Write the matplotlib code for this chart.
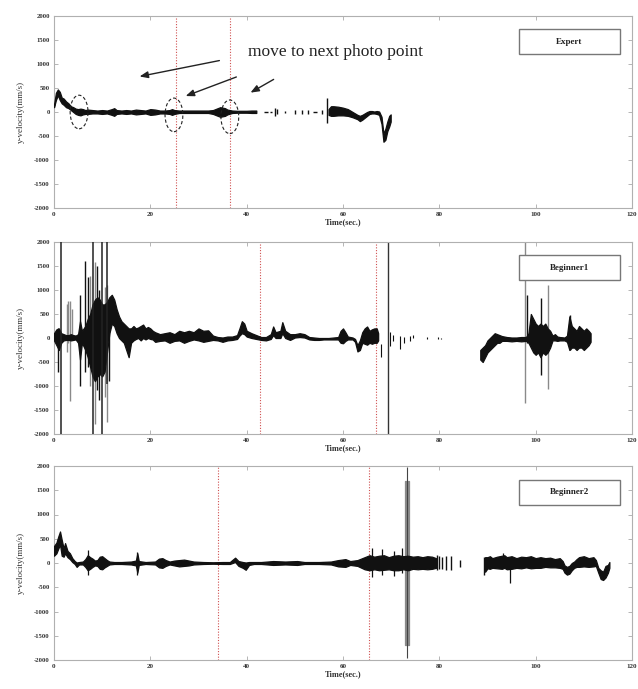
import numpy as np
import matplotlib
matplotlib.use("Agg")
import matplotlib.pyplot as plt
from matplotlib.patches import Ellipse, Rectangle

# ---------------- data ----------------
x_ticks = [0, 20, 40, 60, 80, 100, 120]
y_ticks = [-2000, -1500, -1000, -500, 0, 500, 1000, 1500, 2000]
panel_names = ["Expert", "Beginner1", "Beginner2"]
x_label = "Time(sec.)"
y_label = "y-velocity(mm/s)"
annotation_text = "move to next photo point"

# envelopes: (time, upper, lower)
expert_env1 = [(0.0, 150, 100), (0.4, 400, 250), (0.8, 470, 350), (1.2, 420, 250), (1.6, 300, 180),
               (2.0, 280, 150), (2.5, 220, 100), (3.0, 180, 80), (3.5, 120, 40), (4.0, 100, 0),
               (4.5, 70, -40), (5.0, 60, -60), (5.5, 70, -70), (6.0, 60, -50), (6.5, 40, -40),
               (7.0, 50, -40), (8.0, 40, -30), (9.0, 30, -30), (10.0, 40, -40), (11.0, 30, -30),
               (12.0, 60, -60), (12.5, 80, -80), (13.0, 40, -40), (14.0, 30, -30), (15.0, 40, -40),
               (16.0, 30, -30), (17.0, 50, -50), (18.0, 40, -40), (19.0, 30, -30), (20.0, 60, -60),
               (21.0, 50, -50), (22.0, 30, -30), (23.0, 30, -30), (24.0, 40, -40), (24.5, 60, -60),
               (25.0, 40, -40), (26.0, 30, -20), (28.0, 30, -20), (30.0, 30, -20), (32.0, 30, -20),
               (33.0, 40, -40), (34.0, 80, -80), (34.5, 100, -100), (35.0, 90, -90), (35.5, 80, -80),
               (36.0, 50, -50), (37.0, 30, -20), (38.0, 25, -15), (40.0, 25, -15), (41.0, 30, -20),
               (42.0, 30, -20)]
expert_env2 = [(57.0, 60, -60), (57.5, 120, -80), (58.0, 120, -80), (59.0, 110, -70), (60.0, 90, -70),
               (61.0, 60, -80), (62.0, 0, -110), (63.0, -60, -150), (63.5, -80, -190), (64.0, -60, -160),
               (65.0, 0, -80), (65.5, 20, -40), (66.0, 20, -30), (66.5, 10, -30), (67.0, 20, -40),
               (67.5, 10, -60), (68.0, -100, -250), (68.4, -450, -620), (68.8, -350, -580),
               (69.2, -200, -400), (69.6, -80, -300), (69.9, -50, -200)]
# short dashes (t_start, t_end, value) and marks/spikes (t, low, high)
expert_dashes = [(43.5, 44.5, 0), (44.9, 45.3, 0), (53.8, 54.5, 10)]
expert_marks = [(45.8, -80, 80), (46.3, -40, 60), (48.0, -15, 15), (50.0, -40, 40), (51.4, -40, 40),
                (52.8, -40, 40), (55.6, -50, 50), (56.7, -230, 290)]
expert_photo_lines = [25.3, 36.5]
expert_photo_circles = [(5.2, 0), (24.9, -60), (36.5, -100)]

beginner1_env1 = [(0.0, 100, -50), (0.5, 180, -150), (1.0, 200, -250), (1.5, 100, -100), (2.0, 80, -50),
                  (2.5, 60, -40), (3.0, 60, -40), (3.5, 80, -50), (4.0, 60, -40), (4.5, 50, -30),
                  (5.0, 80, -100), (5.4, 350, -450), (5.8, 150, -100), (6.5, 250, -250), (7.0, 400, -400),
                  (7.5, 500, -600), (8.0, 700, -800), (8.5, 800, -900), (9.0, 850, -800), (9.5, 800, -750),
                  (10.0, 700, -800), (10.5, 700, -700), (11.0, 750, -300), (11.5, 850, 100), (12.0, 900, 300),
                  (12.5, 800, 250), (13.0, 600, 100), (13.5, 450, 0), (14.0, 350, -50), (14.5, 300, -100),
                  (15.0, 250, -250), (15.5, 200, -400), (16.0, 200, -100), (16.5, 250, -50), (17.0, 200, -20),
                  (17.5, 220, 0), (18.0, 250, -50), (18.5, 280, 0), (19.0, 200, -30), (19.5, 230, 0),
                  (20.0, 200, -20), (20.5, 150, -30), (21.0, 120, -80), (22.0, 80, -60), (23.0, 100, -50),
                  (24.0, 120, -100), (25.0, 80, -60), (26.0, 150, -50), (27.0, 120, -100), (28.0, 150, -60),
                  (29.0, 120, -30), (30.0, 200, -50), (31.0, 150, -80), (32.0, 160, -60), (33.0, 50, -40),
                  (34.0, 20, -50), (35.0, 10, -80), (36.0, 30, -50), (37.0, 30, -40), (38.0, 60, -20),
                  (38.5, 200, 50), (39.0, 350, 100), (39.5, 300, 80), (40.0, 150, 30), (41.0, 100, 0),
                  (42.0, 60, -20), (43.0, 20, -40), (44.0, 20, -50), (45.0, 80, -20), (45.5, 240, 60),
                  (46.0, 120, 0), (47.0, 150, 0), (47.4, 330, 100), (48.0, 150, 0), (49.0, 80, -40),
                  (50.0, 80, 10), (51.0, 100, 20), (52.0, 80, 10), (53.0, 20, -30), (54.0, 10, -40),
                  (55.0, 0, -40), (56.0, 0, -30), (57.0, 0, -30), (58.0, 10, -30), (59.0, 20, -30),
                  (59.5, 150, -100), (60.0, 200, -110), (60.5, 120, -60), (61.0, 30, -30), (62.0, 10, -30),
                  (62.5, -20, -80), (63.0, -150, -280), (63.5, -50, -250), (64.0, 120, -100), (64.5, 200, -120),
                  (65.0, 240, -140), (65.5, 150, -100), (66.0, 180, -120), (66.5, 200, -100), (67.0, 200, -100),
                  (67.3, 100, -50)]
beginner1_env2 = [(88.5, -250, -450), (89.0, -200, -500), (89.5, -150, -400), (90.0, -50, -300),
                  (90.5, 0, -250), (91.0, 50, -200), (91.5, 100, -150), (92.0, 80, -100), (92.5, 60, -100),
                  (93.0, 40, -60), (94.0, 20, -60), (95.0, 10, -70), (96.0, 10, -60), (97.0, 20, -70),
                  (98.0, 20, -60), (98.5, 100, -100), (99.0, 500, -200), (99.5, 400, -300), (100.0, 300, -350),
                  (100.5, 250, -300), (101.0, 300, -400), (101.5, 250, -300), (102.0, 300, -350),
                  (102.5, 200, -300), (103.0, 150, -200), (103.5, 50, -50), (104.0, 80, -50), (104.5, 30, -60),
                  (105.0, 20, -50), (106.0, 10, -50), (106.5, 50, -80), (107.0, 450, -250), (107.5, 250, -200),
                  (108.0, 200, -200), (108.5, 150, -250), (109.0, 250, -200), (109.5, 200, -200),
                  (110.0, 150, -250), (110.5, 200, -200), (111.0, 150, -150), (111.4, 100, -80)]
beginner1_solid_spikes = [(1.45, -2000, 2000), (8.0, -2000, 2000), (9.9, -2000, 2000), (10.9, -950, 2000)]
beginner1_dark_spikes = [(0.9, -700, 200), (5.4, -1000, 900), (6.4, -700, 1600), (7.1, -600, 1280),
                         (8.9, -1080, 1490), (9.4, -1300, 1000), (11.4, -900, 600), (98.2, -100, 900),
                         (101.2, -770, 840), (107.2, -250, 480)]
beginner1_gray_spikes = [(2.7, -300, 700), (3.0, -100, 780), (3.3, -1310, 780), (3.7, -50, 600),
                         (7.5, -1000, 1300), (8.6, -1800, 1580), (10.5, -1220, 1070), (11.0, -1750, 1100),
                         (97.8, -1345, 2000), (102.6, -1070, 1100)]
beginner1_marks = [(67.9, -400, -125), (69.8, -160, 120), (70.3, -60, 60), (71.8, -230, 50), (72.6, -100, 30),
                   (74.0, -60, 50), (74.6, 0, 60), (77.4, -20, 30), (79.8, -30, 20), (80.4, -30, 10)]
beginner1_photo_lines = [42.7, 66.9]
beginner1_black_line = [69.3]

beginner2_env1 = [(0.0, 350, 150), (0.5, 420, 200), (0.9, 550, 300), (1.25, 650, 380), (1.6, 480, 150),
                  (2.0, 300, 130), (2.3, 410, 200), (2.8, 250, 120), (3.3, 200, 80), (3.8, 100, 20),
                  (4.3, 40, -20), (4.7, 10, -80), (5.2, 20, -30), (6.0, 30, -30), (6.5, 80, -80),
                  (7.0, 160, -150), (7.5, 120, -120), (8.0, 90, -80), (8.5, 50, -50), (9.0, 60, -60),
                  (9.5, 130, -120), (10.0, 140, -130), (10.5, 100, -90), (11.0, 60, -60), (11.5, 30, -30),
                  (12.5, 20, -20), (14.0, 20, -20), (16.0, 30, -30), (17.0, 50, -50), (17.3, 200, -200),
                  (17.6, 40, -40), (19.0, 20, -20), (21.0, 30, -30), (21.8, 90, -90), (22.5, 100, -100),
                  (23.2, 60, -60), (24.0, 30, -30), (25.0, 50, -50), (26.0, 60, -70), (27.0, 70, -60),
                  (28.0, 50, -50), (29.0, 30, -30), (31.0, 20, -20), (33.0, 15, -15), (35.0, 20, -20),
                  (36.5, 20, -20), (37.6, 110, 20), (38.3, 40, -60), (39.2, 20, -100), (39.8, 10, -140),
                  (40.5, 20, -40), (41.5, 20, -20), (43.0, 20, -20), (45.5, 40, -40), (48.0, 30, -30),
                  (50.5, 40, -40), (52.0, 20, -20), (55.0, 20, -20), (57.5, 30, -30), (59.0, 60, -70),
                  (60.5, 80, -80), (61.5, 40, -40), (63.0, 60, -60), (64.5, 120, -130), (65.5, 160, -150),
                  (66.5, 130, -130), (67.5, 150, -150), (68.5, 160, -140), (69.5, 120, -130),
                  (70.5, 150, -150), (71.5, 160, -150), (72.5, 140, -130), (73.5, 150, -150),
                  (74.5, 130, -120), (75.5, 140, -130), (76.5, 120, -120), (77.5, 140, -130),
                  (78.5, 130, -120), (79.3, 100, -100)]
beginner2_env2 = [(89.5, 120, -180), (90.0, 120, -110), (90.5, 140, -120), (91.0, 100, -100), (92.0, 130, -110),
                  (93.0, 150, -120), (93.5, 160, -100), (94.0, 120, -130), (95.0, 140, -120), (96.0, 100, -100),
                  (97.0, 130, -110), (98.0, 120, -90), (99.0, 140, -110), (100.0, 100, -100), (101.0, 120, -100),
                  (102.0, 100, -80), (103.0, 110, -90), (104.0, 80, -90), (105.0, 100, -100), (105.6, 40, -120),
                  (106.0, -50, -200), (106.5, -80, -240), (107.0, -60, -220), (107.5, 0, -150), (108.0, 30, -100),
                  (108.5, 80, -80), (109.0, 120, -80), (110.0, 140, -70), (111.0, 100, -80), (112.0, 120, -70),
                  (112.5, 60, -60), (113.0, -100, -200), (113.5, -150, -330), (114.0, -180, -350),
                  (114.5, -60, -300), (115.0, -40, -200), (115.3, 20, -100)]
beginner2_spikes = [(7.0, -250, 260), (17.3, -250, 230), (66.0, -280, 300), (68.0, -250, 280),
                    (70.5, -270, 250), (72.3, -200, 300), (93.2, -100, 200), (94.6, -414, 100)]
beginner2_marks = [(79.6, -150, 160), (80.0, -130, 150), (80.6, -120, 120), (81.3, -150, 150),
                   (82.4, -150, 140), (84.2, -80, 60), (89.3, -240, 130)]
beginner2_gray_band = [(72.85, 1690, -1690), (73.75, 1690, -1690)]
beginner2_gray_line = [(73.3, -1950, 1970)]
beginner2_photo_lines = [34.1, 65.5]

# ---------------- drawing ----------------
plt.rcParams["axes.unicode_minus"] = False
serif = ["Liberation Serif", "DejaVu Serif"]

fig = plt.figure(figsize=(6.38, 6.89), dpi=100)
W, H = 638.0, 689.0
ax_px = [(16, 208), (242, 434), (466, 660)]
axes = []
for top, bot in ax_px:
    axes.append(fig.add_axes([54 / W, 1 - bot / H, 578 / W, (bot - top) / H]))

SIG = "#111111"
GRAY = "#8a8a8a"
RED = "#d05050"


def draw_env(ax, env, color=SIG, z=3):
    a = np.array(env, dtype=float)
    ax.fill_between(a[:, 0], a[:, 2], a[:, 1], facecolor=color, edgecolor=color, lw=0.9, zorder=z)


def draw_spikes(ax, spikes, color=SIG, lw=0.9, z=3):
    a = np.array(spikes, dtype=float)
    ax.vlines(a[:, 0], a[:, 1], a[:, 2], colors=color, lw=lw, zorder=z)


for ax, name in zip(axes, panel_names):
    ax.set_xlim(0, 120)
    ax.set_ylim(-2000, 2000)
    ax.set_xticks(x_ticks)
    ax.set_yticks(y_ticks)
    ax.set_xticklabels([str(v) for v in x_ticks], fontsize=5, fontweight="bold", family=serif, color="#333333")
    ax.set_yticklabels([str(v) for v in y_ticks], fontsize=4.8, fontweight="bold", family=serif, color="#333333")
    ax.tick_params(direction="in", length=3, width=0.6, color="#aaaaaa", top=True, right=True, pad=3)
    for s in ax.spines.values():
        s.set_color("#b0b0b0")
        s.set_linewidth(0.8)
    ax.set_xlabel(x_label, fontsize=6, fontweight="bold", family=serif, color="#333333", labelpad=1)
    ax.set_ylabel(y_label, fontsize=6.5, family=serif, color="#333333")
    ax.yaxis.set_label_coords(-0.050, 0.5)
    ax.add_patch(Rectangle((0.804, 0.80), 0.175, 0.13, transform=ax.transAxes, facecolor="white",
                           edgecolor="#777777", lw=1.0, zorder=6))
    ax.text(0.8915, 0.865, name, transform=ax.transAxes, ha="center", va="center", fontsize=6.5,
            fontweight="bold", family=serif, color="#222222", zorder=7)

# Expert
ax = axes[0]
for t in expert_photo_lines:
    ax.axvline(t, color=RED, ls=(0, (1, 1.5)), lw=0.8, zorder=2)
draw_env(ax, expert_env1)
draw_env(ax, expert_env2)
d = np.array(expert_dashes, dtype=float)
ax.hlines(d[:, 2], d[:, 0], d[:, 1], colors=SIG, lw=1.0, zorder=3)
draw_spikes(ax, expert_marks, lw=1.0)
for (t, v) in expert_photo_circles:
    ax.add_patch(Ellipse((t, v), 3.7, 700, fill=False, ls=(0, (3, 2)), lw=0.8, edgecolor="#222222", zorder=4))
fig.text(248 / W, 1 - 52 / H, annotation_text, fontsize=12.5, family=serif, color="#222222",
         ha="left", va="center")
for (x0, y0, x1, y1) in [(34.9, 1083, 17.2, 729), (38.4, 750, 26.8, 312), (46.1, 708, 40.3, 375)]:
    ax.annotate("", xy=(x1, y1), xytext=(x0, y0),
                arrowprops=dict(arrowstyle="-|>,head_length=0.5,head_width=0.2", color="#222222", lw=1.0))

# Beginner1
ax = axes[1]
for t in beginner1_photo_lines:
    ax.axvline(t, color=RED, ls=(0, (1, 1.5)), lw=0.8, zorder=2)
for t in beginner1_black_line:
    ax.axvline(t, color="#333333", lw=1.0, zorder=2)
draw_spikes(ax, beginner1_gray_spikes, color=GRAY, lw=1.0, z=2)
draw_env(ax, beginner1_env1)
draw_env(ax, beginner1_env2)
draw_spikes(ax, beginner1_dark_spikes, lw=1.0)
draw_spikes(ax, beginner1_solid_spikes, color="#222222", lw=1.1)
draw_spikes(ax, beginner1_marks, lw=0.8)

# Beginner2
ax = axes[2]
for t in beginner2_photo_lines:
    ax.axvline(t, color=RED, ls=(0, (1, 1.5)), lw=0.8, zorder=2)
draw_env(ax, beginner2_gray_band, color=GRAY, z=2)
draw_spikes(ax, beginner2_gray_line, color="#444444", lw=0.8, z=2)
draw_env(ax, beginner2_env1)
draw_env(ax, beginner2_env2)
draw_spikes(ax, beginner2_spikes, lw=0.9)
draw_spikes(ax, beginner2_marks, lw=1.0)

fig.savefig("out.png", dpi=100)
